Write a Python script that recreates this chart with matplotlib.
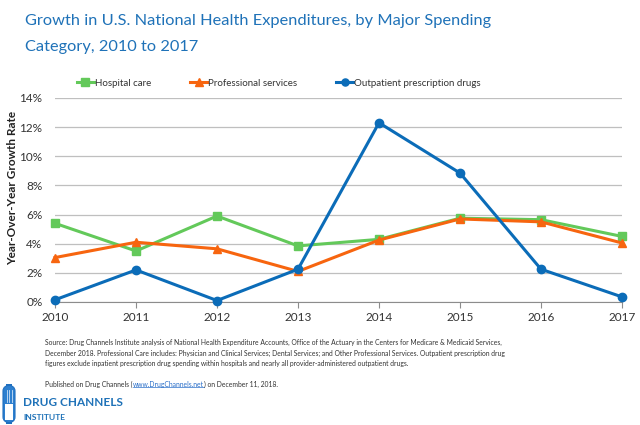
import matplotlib
matplotlib.use("Agg")
import matplotlib.pyplot as plt
from matplotlib.patches import FancyBboxPatch, Rectangle

years = [2010, 2011, 2012, 2013, 2014, 2015, 2016, 2017]
hospital = [5.4, 3.5, 5.9, 3.85, 4.3, 5.75, 5.65, 4.5]
professional = [3.05, 4.1, 3.65, 2.1, 4.25, 5.7, 5.5, 4.05]
rx_drugs = [0.15, 2.2, 0.1, 2.25, 12.3, 8.85, 2.25, 0.35]
series_names = ["Hospital care", "Professional services", "Outpatient prescription drugs"]
yticks = [0, 2, 4, 6, 8, 10, 12, 14]

GREEN = "#63c95a"
ORANGE = "#f7650f"
BLUE = "#0b6cb8"
TITLE_BLUE = "#1f72b8"
FONT = "Lato"

plt.rcParams['font.family'] = [FONT, 'DejaVu Sans']

W, H = 640, 425
fig = plt.figure(figsize=(6.4, 4.25), dpi=100)
ax = fig.add_axes([55/W, 123/H, 567/W, 204/H])

ax.plot(years, hospital, color=GREEN, lw=2.2, marker="s", ms=6, clip_on=False, zorder=3, label=series_names[0])
ax.plot(years, professional, color=ORANGE, lw=2.2, marker="^", ms=6, clip_on=False, zorder=4, label=series_names[1])
ax.plot(years, rx_drugs, color=BLUE, lw=2.2, marker="o", ms=6, clip_on=False, zorder=5, label=series_names[2])

ax.set_xlim(years[0], years[-1])
ax.set_ylim(0, 14)
ax.set_yticks(yticks)
ax.set_yticklabels([f"{v}%" for v in yticks])
ax.set_xticks(years)
ax.grid(axis="y", color="#bfbfbf", lw=0.9)
ax.set_axisbelow(True)
for s in ["top", "right", "left"]:
    ax.spines[s].set_visible(False)
ax.spines["bottom"].set_color("#8c8c8c")
ax.tick_params(axis="y", length=0, labelsize=8.5, colors="#333333", pad=9)
ax.tick_params(axis="x", length=4, color="#8c8c8c", labelsize=8.5, colors="#333333", pad=3)
ax.set_ylabel("Year-Over-Year Growth Rate", fontsize=8.5, fontweight="bold", color="#222222")
ax.yaxis.set_label_coords((18 - 55) / 567, (302 - 188) / 204)

leg = fig.legend(loc="center", bbox_to_anchor=(279/W, 1 - 83/H), ncol=3, frameon=False,
                 fontsize=7.0, handlelength=1.7, columnspacing=4.0, handletextpad=0.15,
                 markerscale=0.85)
for t in leg.get_texts():
    t.set_color("#333333")

fig.text(25/W, 1 - 21/H, "Growth in U.S. National Health Expenditures, by Major Spending",
         fontsize=11.8, color=TITLE_BLUE, va="center", ha="left")
fig.text(25/W, 1 - 47/H, "Category, 2010 to 2017",
         fontsize=11.8, color=TITLE_BLUE, va="center", ha="left")

FS = 4.9
src = ("Source: Drug Channels Institute analysis of National Health Expenditure Accounts, Office of the Actuary in the Centers for Medicare & Medicaid Services,\n"
       "December 2018. Professional Care includes: Physician and Clinical Services; Dental Services; and Other Professional Services. Outpatient prescription drug\n"
       "figures exclude inpatient prescription drug spending within hospitals and nearly all provider-administered outpatient drugs.")
fig.text(45/W, 1 - 353/H, src, fontsize=FS, color="#333333", va="center", ha="left", linespacing=1.62)
t1 = fig.text(45/W, 1 - 384/H, "Published on Drug Channels (", fontsize=FS, color="#333333", va="center", ha="left")
fig.canvas.draw()
r = fig.canvas.get_renderer()
bb = t1.get_window_extent(r)
x1 = bb.x1 / fig.bbox.width
t2 = fig.text(x1, 1 - 384/H, "www.DrugChannels.net", fontsize=FS, color="#2a6fc9", va="center", ha="left")
bb2 = t2.get_window_extent(r)
fig.add_artist(plt.Line2D([bb2.x0 / fig.bbox.width, bb2.x1 / fig.bbox.width],
                          [(bb2.y0 + 0.5) / fig.bbox.height] * 2, color="#2a6fc9", lw=0.5))
fig.text(bb2.x1 / fig.bbox.width, 1 - 384/H, ") on December 11, 2018.", fontsize=FS, color="#333333", va="center", ha="left")

# logo
fig.add_artist(FancyBboxPatch((3/W, 1 - 423/H), 12/W, 38/H,
                              boxstyle="round,pad=0,rounding_size=0.014", transform=fig.transFigure,
                              fc="#2d7fcf", ec="#1f6fbf", lw=0.8))
fig.add_artist(Rectangle((5/W, 1 - 420/H), 8/W, 16/H, transform=fig.transFigure,
                         fc="white", ec="none"))
for xx in [6.5, 9, 11.5]:
    fig.add_artist(plt.Line2D([xx/W, xx/W], [1 - 402/H, 1 - 390/H], color="#cfe3f7", lw=0.6))
fig.text(23/W, 1 - 403/H, "DRUG CHANNELS", fontsize=8.5, fontweight="bold", color="#1f72b8",
         va="center", ha="left")
fig.text(23/W, 1 - 418/H, "INSTITUTE", fontsize=6.1, fontweight="bold", color="#1f72b8",
         va="center", ha="left")

fig.savefig("out.png", dpi=100, facecolor="white")
